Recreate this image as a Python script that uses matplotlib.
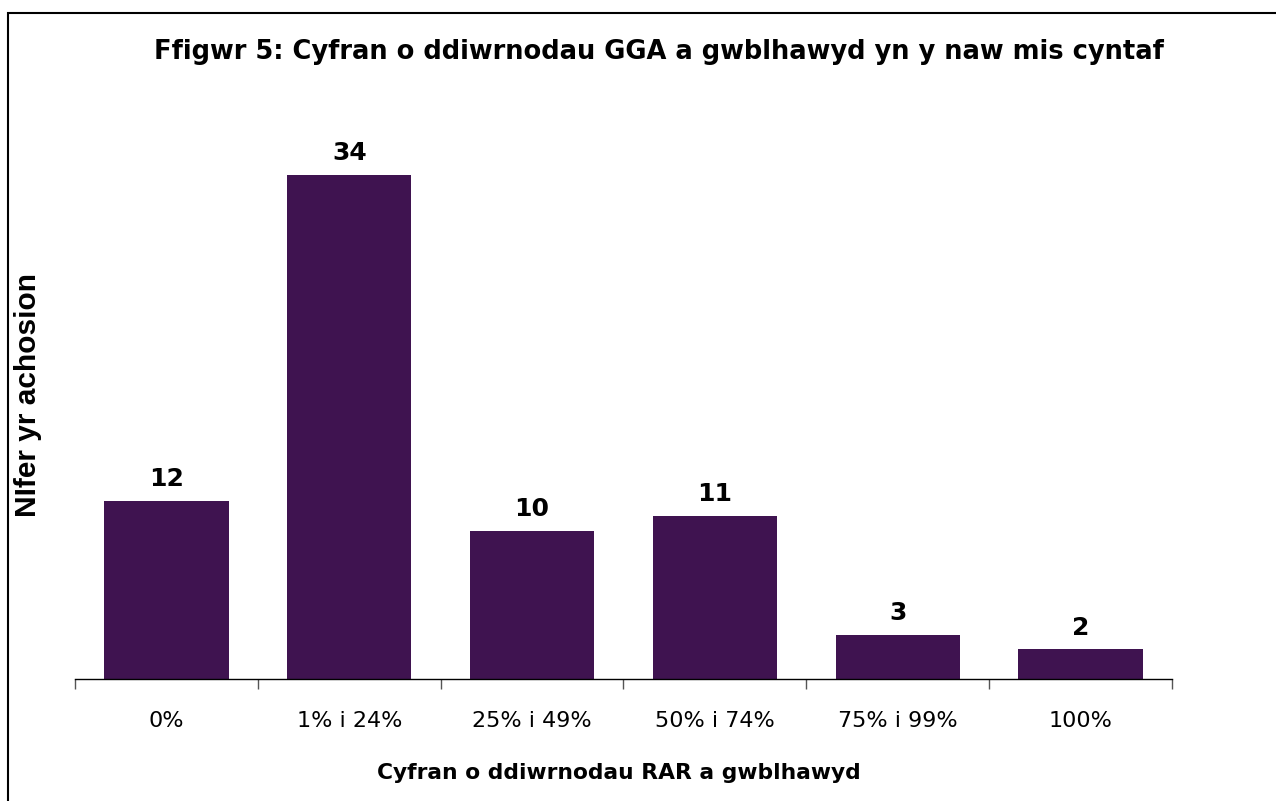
import matplotlib
matplotlib.use("Agg")
import matplotlib.pyplot as plt
from matplotlib.patches import Rectangle

categories = ["0%", "1% i 24%", "25% i 49%", "50% i 74%", "75% i 99%", "100%"]
values = [12, 34, 10, 11, 3, 2]

title = "Ffigwr 5: Cyfran o ddiwrnodau GGA a gwblhawyd yn y naw mis cyntaf"
xlabel = "Cyfran o ddiwrnodau RAR a gwblhawyd"
ylabel = "NIfer yr achosion"

fig = plt.figure(figsize=(12.76, 8.01), dpi=100)
W, H = 1276, 801
ax = fig.add_axes([75 / W, 1 - 679 / H, (1172 - 75) / W, (679 - 86) / H])

x = list(range(len(categories)))
bars = ax.bar(x, values, width=0.68, color="#3f1350", zorder=2)
ax.set_xlim(-0.5, len(categories) - 0.5)
ax.set_ylim(0, 40)

for b, v in zip(bars, values):
    ax.annotate(str(v), (b.get_x() + b.get_width() / 2, v), xytext=(0, 7),
                textcoords="offset points", ha="center", va="bottom",
                fontsize=18, fontweight="bold", family="DejaVu Sans")

for s in ["top", "right", "left"]:
    ax.spines[s].set_visible(False)
ax.spines["bottom"].set_color("#000000")
ax.spines["bottom"].set_linewidth(1.0)
ax.set_yticks([])
ax.set_xticks([i - 0.5 for i in range(len(categories) + 1)], minor=False)
ax.set_xticklabels([])
ax.tick_params(axis="x", which="major", length=7, color="#555555", width=1)
ax.set_xticks(x, minor=True)
ax.set_xticklabels(categories, minor=True, fontsize=16, family="DejaVu Sans")
ax.tick_params(axis="x", which="minor", length=0, pad=23)

fig.text(659 / W, 1 - 52 / H, title, ha="center", va="center",
         fontsize=18.5, fontweight="bold", family="DejaVu Sans")
fig.text(619 / W, 1 - 773 / H, xlabel, ha="center", va="center",
         fontsize=15.7, fontweight="bold", family="DejaVu Sans")
fig.text(28 / W, 1 - 395 / H, ylabel, ha="center", va="center", rotation=90,
         fontsize=21.5, fontweight="bold", family="Liberation Sans")

fig.patches.append(Rectangle((8 / W, -0.05), 1.2, 1 - 13 / H + 0.05,
                             transform=fig.transFigure, fill=False,
                             edgecolor="black", linewidth=1.5))

fig.savefig("out.png", dpi=100)
